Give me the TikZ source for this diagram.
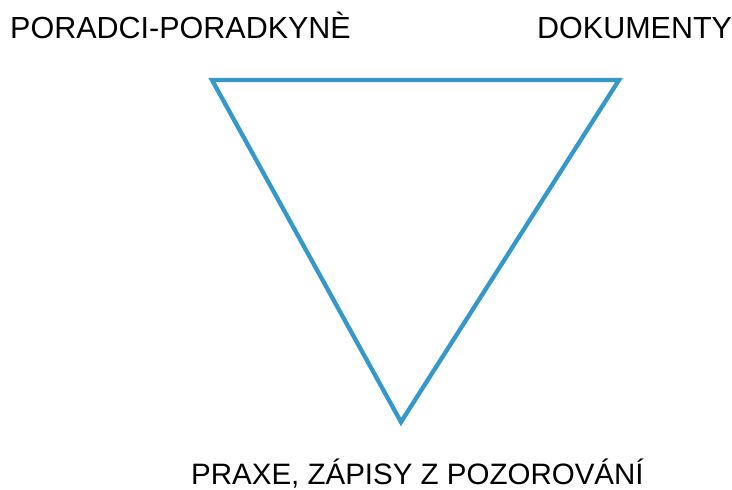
\documentclass[tikz,border=0pt]{standalone}
\usepackage{fontspec}
\setmainfont{Liberation Sans}
\definecolor{triblue}{RGB}{52,152,204}
\begin{document}
\begin{tikzpicture}[x=1pt,y=-1pt,
  lbl/.style={inner sep=0pt,anchor=base west,font=\fontsize{30.5}{34}\selectfont,text=black},
  tri/.style={draw=triblue,line width=4.3pt,line join=miter}]
\useasboundingbox (0,0) rectangle (732,490);
\coordinate (tl) at (212,80);
\coordinate (tr) at (619,80);
\coordinate (b) at (401,422);
\draw[tri] (tl) -- (tr) -- (b) -- cycle;
\node[lbl] (l1) at (10,38) {PORADCI-PORADKYNÈ};
\node[lbl] (l2) at (537,38) {DOKUMENTY};
\node[lbl,font=\fontsize{29.5}{34}\selectfont] (l3) at (191,484) {PRAXE, ZÁPISY Z POZOROVÁNÍ};
\end{tikzpicture}
\end{document}
